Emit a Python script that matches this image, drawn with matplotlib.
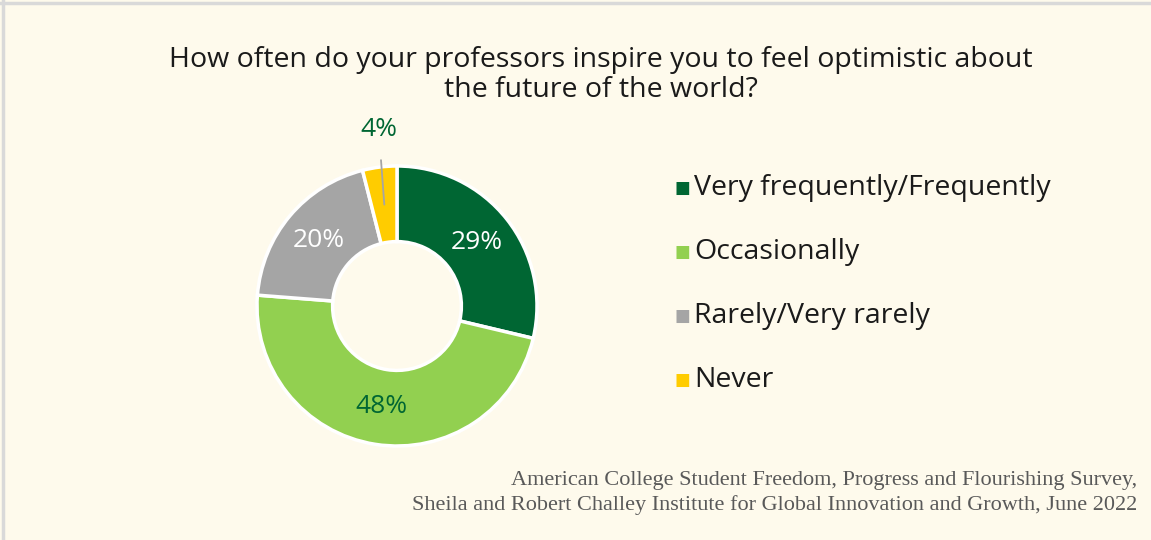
import numpy as np
import matplotlib
matplotlib.use("Agg")
import matplotlib.pyplot as plt

# survey responses (percent)
categories = ["Very frequently/Frequently", "Occasionally", "Rarely/Very rarely", "Never"]
values = [29, 48, 20, 4]
colors = ["#006633", "#92D050", "#A5A5A5", "#FFCC00"]
label_colors = ["white", "#006633", "white", "#006633"]

title = "How often do your professors inspire you to feel optimistic about\nthe future of the world?"
source = ("American College Student Freedom, Progress and Flourishing Survey,\n"
          "Sheila and Robert Challey Institute for Global Innovation and Growth, June 2022")

bg = "#FEFAEC"
W, H = 1151, 540
fig = plt.figure(figsize=(W / 100, H / 100), dpi=100, facecolor=bg)

# light border along top and left
fig.add_artist(plt.Line2D([0, 1], [1 - 2.5 / H, 1 - 2.5 / H], color="#D9D9D9", lw=2.5))
fig.add_artist(plt.Line2D([2.5 / W, 2.5 / W], [0, 1], color="#D9D9D9", lw=2.5))

fig.text(601 / W, 1 - 75 / H, title, ha="center", va="center", fontsize=20.5,
         family="Open Sans", color="#1a1a1a", linespacing=1.05)

# donut
cx, cy, r = 397, 306, 140
ax = fig.add_axes([(cx - r) / W, (H - cy - r) / H, 2 * r / W, 2 * r / H])
wedges, _ = ax.pie(values, colors=colors, startangle=90, counterclock=False,
                   radius=1, wedgeprops=dict(width=0.54, edgecolor="white", linewidth=2.5))
ax.set_xlim(-1, 1)
ax.set_ylim(-1, 1)
ax.axis("off")

for i, w in enumerate(wedges):
    mid = np.deg2rad((w.theta1 + w.theta2) / 2)
    txt = f"{values[i]}%"
    if i == 3:
        x0, y0 = 0.73 * np.cos(mid), 0.73 * np.sin(mid)
        ax.annotate(txt, xy=(x0, y0), xytext=(x0 - 0.04, 1.26), ha="center", va="center",
                    fontsize=19, family="Open Sans", color=label_colors[i],
                    arrowprops=dict(arrowstyle="-", color="#A5A5A5", lw=1.3,
                                    shrinkA=11, shrinkB=0), annotation_clip=False)
    else:
        ax.text(0.73 * np.cos(mid), 0.73 * np.sin(mid), txt, ha="center", va="center",
                fontsize=19, family="Open Sans", color=label_colors[i])

# legend
ys = [188, 252, 316, 380]
for name, c, y in zip(categories, colors, ys):
    fig.text(682 / W, 1 - y / H, "\u25A0", ha="center", va="center", fontsize=12, color=c,
             family="DejaVu Sans")
    fig.text(694 / W, 1 - y / H, name, ha="left", va="center", fontsize=20.5,
             family="Open Sans", color="#1a1a1a")

fig.text(1137 / W, 1 - 493 / H, source, ha="right", va="center", fontsize=16,
         family="Liberation Serif", color="#595959", linespacing=1.35)

fig.savefig("out.png", dpi=100, facecolor=bg)
